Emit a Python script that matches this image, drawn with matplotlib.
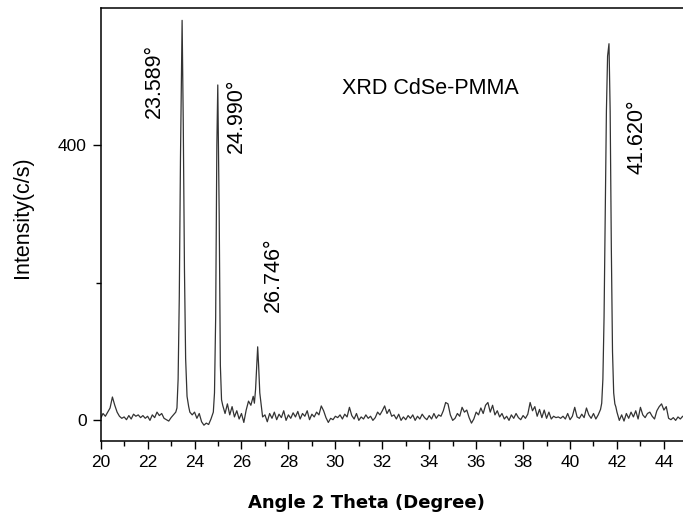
import matplotlib
matplotlib.use('Agg')
import matplotlib.pyplot as plt
from matplotlib.ticker import MultipleLocator, FixedLocator

plt.rcParams['font.family'] = ['Liberation Sans', 'DejaVu Sans']

# XRD pattern (2-theta in degrees, intensity in c/s)
two_theta = [
    20.0, 20.1, 20.2, 20.3, 20.4, 20.5, 20.6, 20.7, 20.8, 20.9,
    21.0, 21.1, 21.2, 21.3, 21.4, 21.5, 21.6, 21.7, 21.8, 21.9,
    22.0, 22.1, 22.2, 22.3, 22.4, 22.5, 22.6, 22.7, 22.8, 22.9,
    23.0, 23.1, 23.2, 23.25, 23.3, 23.35, 23.4, 23.47, 23.52, 23.57,
    23.62, 23.68, 23.75, 23.8, 23.9, 24.0, 24.1, 24.2, 24.3, 24.4,
    24.5, 24.6, 24.7, 24.8, 24.85, 24.9, 24.95, 24.99, 25.05, 25.1,
    25.15, 25.2, 25.3, 25.4, 25.5, 25.6, 25.7, 25.8, 25.9, 26.0,
    26.1, 26.2, 26.3, 26.4, 26.5, 26.55, 26.6, 26.65, 26.69, 26.73,
    26.78, 26.85, 26.9, 27.0, 27.1, 27.2, 27.3, 27.4, 27.5, 27.6,
    27.7, 27.8, 27.9, 28.0, 28.1, 28.2, 28.3, 28.4, 28.5, 28.6,
    28.7, 28.8, 28.9, 29.0, 29.1, 29.2, 29.3, 29.4, 29.5, 29.6,
    29.7, 29.8, 29.9, 30.0, 30.1, 30.2, 30.3, 30.4, 30.5, 30.6,
    30.7, 30.8, 30.9, 31.0, 31.1, 31.2, 31.3, 31.4, 31.5, 31.6,
    31.7, 31.8, 31.9, 32.0, 32.1, 32.2, 32.3, 32.4, 32.5, 32.6,
    32.7, 32.8, 32.9, 33.0, 33.1, 33.2, 33.3, 33.4, 33.5, 33.6,
    33.7, 33.8, 33.9, 34.0, 34.1, 34.2, 34.3, 34.4, 34.5, 34.6,
    34.7, 34.8, 34.9, 35.0, 35.1, 35.2, 35.3, 35.4, 35.5, 35.6,
    35.7, 35.8, 35.9, 36.0, 36.1, 36.2, 36.3, 36.4, 36.5, 36.6,
    36.7, 36.8, 36.9, 37.0, 37.1, 37.2, 37.3, 37.4, 37.5, 37.6,
    37.7, 37.8, 37.9, 38.0, 38.1, 38.2, 38.3, 38.4, 38.5, 38.6,
    38.7, 38.8, 38.9, 39.0, 39.1, 39.2, 39.3, 39.4, 39.5, 39.6,
    39.7, 39.8, 39.9, 40.0, 40.1, 40.2, 40.3, 40.4, 40.5, 40.6,
    40.7, 40.8, 40.9, 41.0, 41.1, 41.2, 41.3, 41.35, 41.4, 41.45,
    41.5, 41.55, 41.6, 41.66, 41.71, 41.76, 41.81, 41.86, 41.91, 41.95,
    42.0, 42.1, 42.2, 42.3, 42.4, 42.5, 42.6, 42.7, 42.8, 42.9,
    43.0, 43.1, 43.2, 43.3, 43.4, 43.5, 43.6, 43.7, 43.8, 43.9,
    44.0, 44.1, 44.2, 44.3, 44.4, 44.5, 44.6, 44.7, 44.8, 44.9,
]
intensity = [
    3, 10, 6, 12, 18, 34, 22, 12, 6, 3,
    5, 1, 7, 2, 9, 6, 8, 4, 7, 3,
    6, 0, 8, 4, 12, 7, 10, 3, 1, -1,
    4, 8, 12, 18, 60, 180, 380, 582, 430, 220,
    90, 35, 20, 12, 8, 12, 3, 10, -2, -7,
    -4, -6, 2, 12, 40, 150, 400, 488, 300, 80,
    30, 22, 10, 24, 8, 20, 5, 14, 2, 10,
    -3, 15, 28, 22, 35, 25, 45, 80, 107, 80,
    40, 20, 5, 8, -2, 10, 3, 12, 1, 9,
    4, 14, 0, 8, 3, 11, 5, 13, 2, 10,
    6, 14, 1, 9, 5, 12, 8, 21, 14, 4,
    -3, 3, 1, 6, 4, 8, 2, 9, 5, 19,
    7, 2, 10, 0, 5, 2, 8, 3, 6, 0,
    4, 12, 8, 14, 21, 10, 16, 6, 8, 2,
    9, 0, 5, 1, 7, 3, 8, 0, 6, 2,
    9, 4, 1, 7, 2, 10, 3, 8, 6, 14,
    26, 24, 8, 0, 3, 10, 6, 19, 12, 15,
    4, -4, 2, 12, 8, 18, 10, 22, 26, 12,
    22, 8, 14, 5, 10, 2, 6, 0, 8, 3,
    10, 4, 1, 7, 3, 9, 26, 14, 20, 6,
    16, 4, 15, 3, 12, 2, 6, 4, 5, 3,
    6, 2, 10, 1, 6, 19, 5, 3, 9, 4,
    18, 8, 3, 10, 2, 8, 16, 25, 60, 150,
    300, 450, 530, 548, 450, 250, 100, 40, 24, 20,
    12, 0, 8, -1, 10, 3, 12, 5, 14, 2,
    19, 8, 4, 10, 12, 6, 2, 14, 20, 24,
    15, 20, 3, 1, 4, 0, 5, 2, 6, 3,
]

peak_labels = ['23.589°', '24.990°', '26.746°', '41.620°']
label_x = [22.29, 25.79, 27.38, 42.85]
label_y = [494, 443, 212, 413]

fig = plt.figure(figsize=(6.83, 5.15), dpi=100)
ax = fig.add_axes([0.1474, 0.1437, 0.859, 0.8408])

ax.plot(two_theta, intensity, color='#333333', linewidth=0.9)

for txt, lx, ly in zip(peak_labels, label_x, label_y):
    ax.text(lx, ly, txt, rotation=90, ha='center', va='center', fontsize=15.5)

ax.text(34.07, 483, 'XRD CdSe-PMMA', ha='center', va='center', fontsize=15.5)

ax.set_xlim(20, 45)
ax.set_ylim(-30, 600)

ax.xaxis.set_major_locator(MultipleLocator(2))
ax.xaxis.set_minor_locator(MultipleLocator(1))
ax.yaxis.set_major_locator(FixedLocator([0, 400]))
ax.yaxis.set_minor_locator(FixedLocator([200]))

ax.tick_params(axis='both', which='major', direction='out', length=6,
               width=1.0, labelsize=12.5, pad=4)
ax.tick_params(axis='both', which='minor', direction='out', length=3.5, width=1.0)

for sp in ax.spines.values():
    sp.set_linewidth(1.1)

ax.set_xlabel('Angle 2 Theta (Degree)', family='DejaVu Sans',
              fontweight='bold', fontsize=13)
ax.xaxis.set_label_coords(0.4538, -0.143)
ax.xaxis.label.set_va('center')
ax.set_ylabel('Intensity(c/s)', fontsize=15.5)
ax.yaxis.set_label_coords(-0.134, 0.518)
ax.yaxis.label.set_va('center')

fig.savefig('out.png', dpi=100)
